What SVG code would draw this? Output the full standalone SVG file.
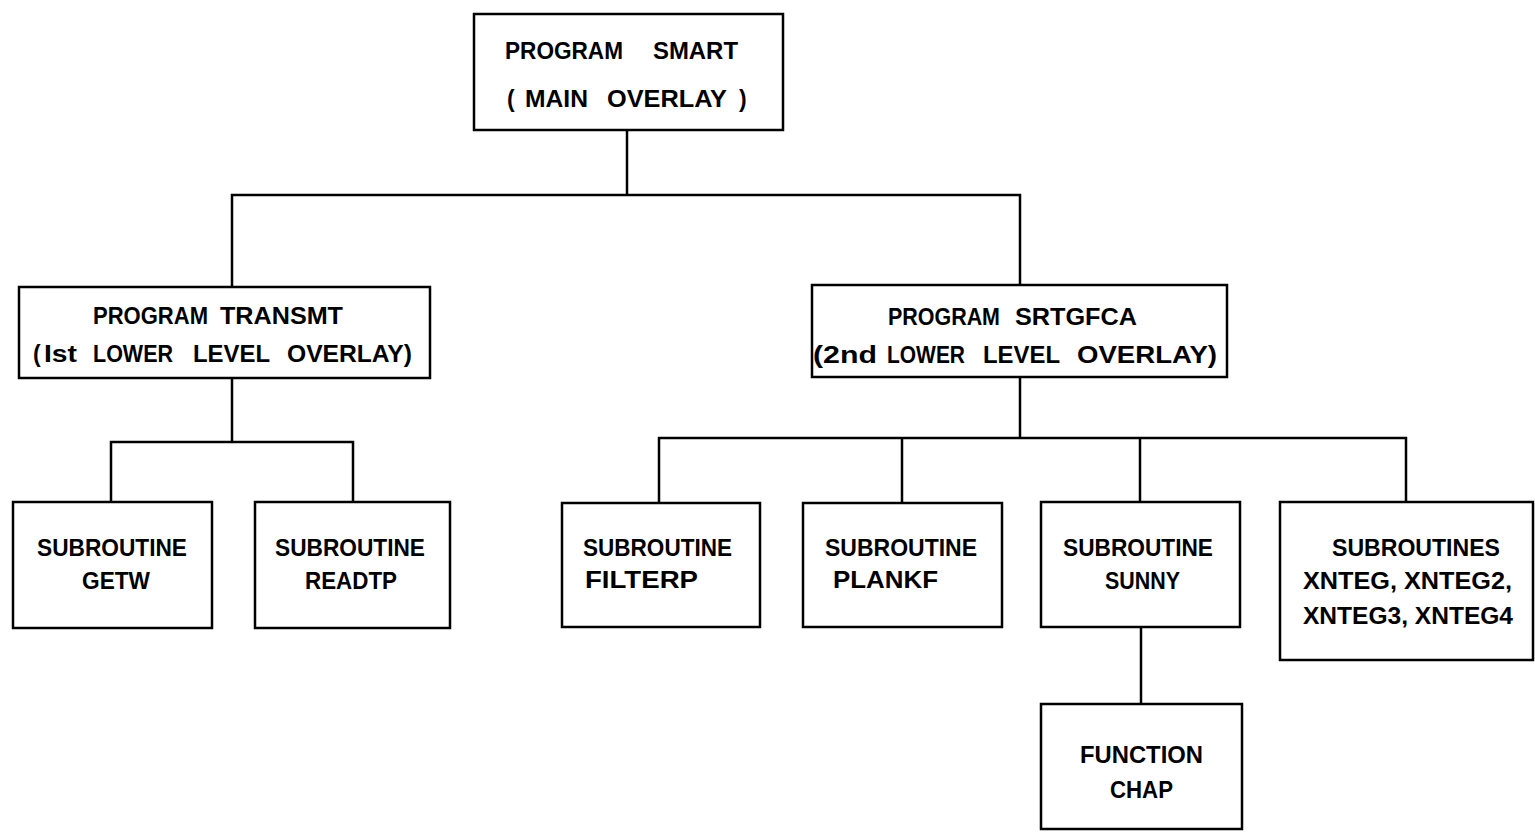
<svg xmlns="http://www.w3.org/2000/svg" width="1535" height="832" viewBox="0 0 1535 832">
<style>
.box{fill:#fff;stroke:#000;stroke-width:2.5}
.ln{fill:none;stroke:#000;stroke-width:2.5;stroke-linecap:square}
text{font-family:"Liberation Sans",Arial,sans-serif;font-weight:bold;font-size:23px;fill:#000}
</style>
<rect width="1535" height="832" fill="#fff"/>
<g id="connectors">
<path class="ln" d="M627,130 V195 M232,195 H1020 M232,195 V287 M1020,195 V285"/>
<path class="ln" d="M232,378 V442 M111,442 H353 M111,442 V502 M353,442 V502"/>
<path class="ln" d="M1020,377 V438 M659,438 H1406 M659,438 V503 M902,438 V503 M1140,438 V502 M1406,438 V502"/>
<path class="ln" d="M1141,627 V704"/>
</g>
<g id="smart">
<rect class="box" x="474" y="14" width="309" height="116"/>
<text y="59"><tspan x="505" textLength="118" lengthAdjust="spacingAndGlyphs">PROGRAM</tspan><tspan x="653" textLength="85" lengthAdjust="spacingAndGlyphs">SMART</tspan></text>
<text y="107"><tspan x="507">(</tspan><tspan x="525" textLength="63" lengthAdjust="spacingAndGlyphs">MAIN</tspan><tspan x="607" textLength="120" lengthAdjust="spacingAndGlyphs">OVERLAY</tspan><tspan x="739">)</tspan></text>
</g>
<g id="transmt">
<rect class="box" x="19" y="287" width="411" height="91"/>
<text y="324"><tspan x="93" textLength="115" lengthAdjust="spacingAndGlyphs">PROGRAM</tspan><tspan x="220" textLength="123" lengthAdjust="spacingAndGlyphs">TRANSMT</tspan></text>
<text y="362"><tspan x="33">(</tspan><tspan x="44" textLength="33" lengthAdjust="spacingAndGlyphs">Ist</tspan><tspan x="93" textLength="80" lengthAdjust="spacingAndGlyphs">LOWER</tspan><tspan x="193" textLength="77" lengthAdjust="spacingAndGlyphs">LEVEL</tspan><tspan x="287" textLength="125" lengthAdjust="spacingAndGlyphs">OVERLAY)</tspan></text>
</g>
<g id="srtgfca">
<rect class="box" x="812" y="285" width="415" height="92"/>
<text y="325"><tspan x="888" textLength="112" lengthAdjust="spacingAndGlyphs">PROGRAM</tspan><tspan x="1015" textLength="122" lengthAdjust="spacingAndGlyphs">SRTGFCA</tspan></text>
<text y="363"><tspan x="813" textLength="64" lengthAdjust="spacingAndGlyphs">(2nd</tspan><tspan x="887" textLength="78" lengthAdjust="spacingAndGlyphs">LOWER</tspan><tspan x="983" textLength="77" lengthAdjust="spacingAndGlyphs">LEVEL</tspan><tspan x="1077" textLength="140" lengthAdjust="spacingAndGlyphs">OVERLAY)</tspan></text>
</g>
<g id="getw">
<rect class="box" x="13" y="502" width="199" height="126"/>
<text x="37" y="556" textLength="150" lengthAdjust="spacingAndGlyphs">SUBROUTINE</text>
<text x="82" y="589" textLength="68" lengthAdjust="spacingAndGlyphs">GETW</text>
</g>
<g id="readtp">
<rect class="box" x="255" y="502" width="195" height="126"/>
<text x="275" y="556" textLength="150" lengthAdjust="spacingAndGlyphs">SUBROUTINE</text>
<text x="305" y="589" textLength="92" lengthAdjust="spacingAndGlyphs">READTP</text>
</g>
<g id="filterp">
<rect class="box" x="562" y="503" width="198" height="124"/>
<text x="583" y="556" textLength="149" lengthAdjust="spacingAndGlyphs">SUBROUTINE</text>
<text x="585" y="588" textLength="113" lengthAdjust="spacingAndGlyphs">FILTERP</text>
</g>
<g id="plankf">
<rect class="box" x="803" y="503" width="199" height="124"/>
<text x="825" y="556" textLength="152" lengthAdjust="spacingAndGlyphs">SUBROUTINE</text>
<text x="833" y="588" textLength="105" lengthAdjust="spacingAndGlyphs">PLANKF</text>
</g>
<g id="sunny">
<rect class="box" x="1041" y="502" width="199" height="125"/>
<text x="1063" y="556" textLength="150" lengthAdjust="spacingAndGlyphs">SUBROUTINE</text>
<text x="1105" y="589" textLength="75" lengthAdjust="spacingAndGlyphs">SUNNY</text>
</g>
<g id="xnteg">
<rect class="box" x="1280" y="502" width="253" height="158"/>
<text x="1332" y="556" textLength="168" lengthAdjust="spacingAndGlyphs">SUBROUTINES</text>
<text x="1303" y="589" textLength="209" lengthAdjust="spacingAndGlyphs">XNTEG, XNTEG2,</text>
<text x="1303" y="624" textLength="210" lengthAdjust="spacingAndGlyphs">XNTEG3, XNTEG4</text>
</g>
<g id="chap">
<rect class="box" x="1041" y="704" width="201" height="125"/>
<text x="1080" y="763" textLength="123" lengthAdjust="spacingAndGlyphs">FUNCTION</text>
<text x="1110" y="798" textLength="63" lengthAdjust="spacingAndGlyphs">CHAP</text>
</g>
</svg>
